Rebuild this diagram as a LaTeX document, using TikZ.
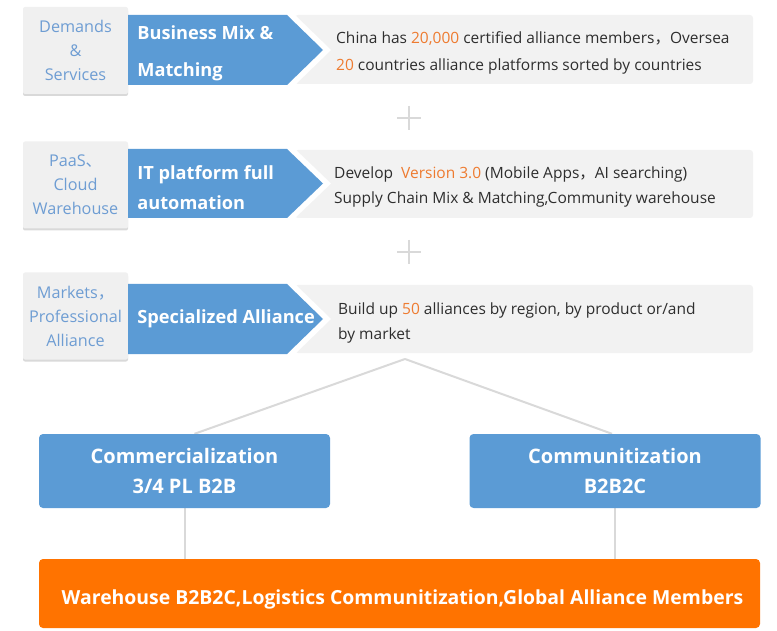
\documentclass[tikz,border=0pt]{standalone}
\usepackage{fontspec}
\setmainfont{Open Sans}
\newfontfamily\cjk{Noto Sans CJK SC}
\usetikzlibrary{positioning}
\usetikzlibrary{shadows}
\usetikzlibrary{backgrounds}
\definecolor{sideblue}{HTML}{6E9DD3}
\definecolor{sidegrey}{HTML}{F0F0F0}
\definecolor{bandgrey}{HTML}{F2F2F2}
\definecolor{arrowblue}{HTML}{5B9BD5}
\definecolor{hiorange}{HTML}{EE7B30}
\definecolor{baseorange}{HTML}{FF7300}
\definecolor{linegrey}{HTML}{D9D9D9}
\definecolor{darktext}{HTML}{2E2E2E}
\newcommand{\hilite}[1]{\textcolor{hiorange}{#1}}
\tikzset{sidebox/.style={fill=sidegrey, rounded corners=2pt, minimum width=105pt, minimum height=87pt, align=center, text=sideblue, inner sep=0pt, font=\fontsize{16.2}{24}\selectfont, drop shadow={shadow xshift=0pt, shadow yshift=-2pt, opacity=.15, fill=black}}}
\tikzset{armlabel/.style={anchor=west, align=left, inner sep=0pt, text=white, yshift=-3pt, font=\bfseries\fontsize{18.2}{37}\selectfont}}
\tikzset{infotext/.style={anchor=west, align=left, inner sep=0pt, text=darktext, yshift=-3pt, font=\fontsize{15.5}{27}\selectfont}}
\tikzset{tierbox/.style={fill=arrowblue, rounded corners=4pt, minimum width=291pt, minimum height=74pt, align=center, text=white, inner sep=0pt, font=\bfseries\fontsize{20}{30}\selectfont}}
\tikzset{link/.style={draw=linegrey, line width=2pt}}

\begin{document}
\begin{tikzpicture}[x=1pt,y=-1pt]
    \useasboundingbox (0,0) rectangle (777,631);
    % demands row
    \fill[bandgrey, rounded corners=3pt] (295,15) rectangle (753,84);
    \node[sidebox](side1) at (75.5,50.5) {Demands\\\&\\Services};
    \fill[white] (280,15) -- (295,15) -- (331,50) -- (295,85) -- (280,85) -- cycle;
    \fill[arrowblue] (128,15) -- (287,15) -- (323,50) -- (287,85) -- (128,85) -- cycle;
    \node[armlabel, right=9pt of side1](mix){Business Mix \&\\Matching};
    \node[infotext](info1) at (336,49.5){China has \hilite{20,000} certified alliance members{\cjk ，}Oversea\\\hilite{20} countries alliance platforms sorted by countries};
    \draw[link] (397,118) -- (421,118) (409,106) -- (409,130);
    % platform row
    \fill[bandgrey, rounded corners=3pt] (295,150) rectangle (753,218);
    \node[sidebox](side2) at (75.5,185) {PaaS{\cjk 、}\\Cloud\\Warehouse};
    \fill[white] (280,149) -- (295,149) -- (331,183.5) -- (295,218) -- (280,218) -- cycle;
    \fill[arrowblue] (128,149) -- (287,149) -- (323,183.5) -- (287,218) -- (128,218) -- cycle;
    \node[armlabel, font=\bfseries\fontsize{18.2}{30}\selectfont, right=9pt of side2](itp){IT platform full\\automation};
    \node[infotext, font=\fontsize{15.5}{25}\selectfont](info2) at (334,183.5){Develop\ \ \hilite{Version 3.0} (Mobile Apps{\cjk ，}AI searching)\\Supply Chain Mix \& Matching,Community warehouse};
    \draw[link] (397,252) -- (421,252) (409,240) -- (409,264);
    % alliance row
    \fill[bandgrey, rounded corners=3pt] (295,285) rectangle (753,353);
    \node[sidebox](side3) at (75.5,316) {Markets{\cjk ，}\\Professional\\Alliance};
    \fill[white] (280,284) -- (295,284) -- (331,319) -- (295,354) -- (280,354) -- cycle;
    \fill[arrowblue] (128,284) -- (287,284) -- (323,319) -- (287,354) -- (128,354) -- cycle;
    \node[armlabel, right=9pt of side3](spec){Specialized Alliance};
    \node[infotext, font=\fontsize{15.5}{25}\selectfont](info3) at (338,319.5){Build up \hilite{50} alliances by region, by product or/and\\by market};
    % tiers
    \coordinate (apex) at (405,359);
    \node[tierbox](comm) at (184.5,471) {Commercialization\\3/4 PL B2B};
    \node[tierbox](commu) at (615,471) {Communitization\\B2B2C};
    \node[tierbox, fill=baseorange, minimum width=721pt, minimum height=69pt, text height=22pt, text depth=0pt, font=\bfseries\fontsize{19.4}{30}\selectfont](base) at (399.5,593.5) {\hspace*{6pt}Warehouse B2B2C,Logistics Communitization,Global Alliance Members};
    \begin{scope}[on background layer]
    \draw[link] (apex) -- ([xshift=10pt]comm.north);
    \draw[link] (apex) -- ([xshift=-3pt]commu.north);
    \draw[link] (comm.south) -- (comm.south |- base.north);
    \draw[link] (commu.south) -- (commu.south |- base.north);
    \end{scope}
\end{tikzpicture}
\end{document}
